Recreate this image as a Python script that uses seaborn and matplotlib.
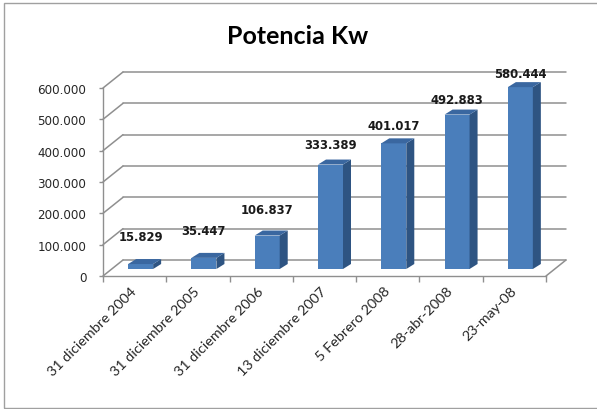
import matplotlib
matplotlib.use("Agg")
import numpy as np
import pandas as pd
import seaborn as sns
import matplotlib.pyplot as plt
import matplotlib.transforms as mtrans
from matplotlib.patches import Polygon, Rectangle
from matplotlib.lines import Line2D
from matplotlib.ticker import FuncFormatter, FixedLocator

# ---- data ----
categories = ["31 diciembre 2004", "31 diciembre 2005", "31 diciembre 2006",
              "13 diciembre 2007", "5 Febrero 2008", "28-abr-2008", "23-may-08"]
values = [15829, 35447, 106837, 333389, 401017, 492883, 580444]
y_ticks = [0, 100000, 200000, 300000, 400000, 500000, 600000]
title = "Potencia Kw"

def fmt(v):
    return f"{int(round(v)):,}".replace(",", ".")

sns.set_theme(style="white")
plt.rcParams["font.family"] = ["DejaVu Sans"]

W, H, DPI = 597, 410, 100
FRONT = "#4a7ebb"
SIDE = "#2e5482"
TOP = "#3a67a0"
GRID = "#8f8f8f"

fig = plt.figure(figsize=(W / DPI, H / DPI), dpi=DPI)
fig.patch.set_facecolor("white")
ax = fig.add_axes([103 / W, 133 / H, 443 / W, 188 / H])
ax.set_facecolor("none")

df = pd.DataFrame({"fecha": categories, "kw": values})
sns.barplot(data=df, x="fecha", y="kw", color=FRONT, saturation=1,
            width=0.395, ax=ax, linewidth=0, zorder=3)
ax.set_xlim(-0.5, len(categories) - 0.5)
ax.set_ylim(y_ticks[0], y_ticks[-1])
ax.set_xlabel("")
ax.set_ylabel("")

for s in ["top", "right"]:
    ax.spines[s].set_visible(False)
for s in ["left", "bottom"]:
    ax.spines[s].set_color(GRID)
    ax.spines[s].set_linewidth(1.0)

ax.yaxis.set_major_locator(FixedLocator(y_ticks))
ax.yaxis.set_major_formatter(FuncFormatter(lambda v, p: fmt(v)))
ax.tick_params(axis="y", length=3, width=1, color=GRID, pad=9,
               labelsize=8.6, labelcolor="#262626", left=True)

ax.set_xticks(range(len(categories)))
ax.set_xticklabels(categories, rotation=45, ha="right", va="center",
                   rotation_mode="anchor", fontsize=10.4, color="#262626",
                   family=["Lato", "DejaVu Sans"])
ax.tick_params(axis="x", which="major", length=0, pad=9)
ax.set_xticks(np.arange(-0.5, len(categories), 1.0), minor=True)
ax.tick_params(axis="x", which="minor", length=4, width=1, color=GRID, bottom=True)

# 3D geometry (display pixels)
BX, BY = 20, 16     # back wall offset
OX, OY = 6, 7       # bar front face offset
DX, DY = 8, 5       # bar depth
ident = mtrans.IdentityTransform()
td = ax.transData

x_left, x_right = -0.5, len(categories) - 0.5
for v in y_ticks:
    (xa, ya) = td.transform((x_left, v))
    (xb, yb) = td.transform((x_right, v))
    ax.add_line(Line2D([xa + BX, xb + BX], [ya + BY, yb + BY], color=GRID, lw=1.1,
                       transform=ident, clip_on=False, zorder=1))
    ax.add_line(Line2D([xa, xa + BX], [ya, ya + BY], color=GRID, lw=1.1,
                       transform=ident, clip_on=False, zorder=1))
(xa, ya) = td.transform((x_right, 0))
ax.add_line(Line2D([xa, xa + BX], [ya, ya + BY], color=GRID, lw=1.1,
                   transform=ident, clip_on=False, zorder=1))

shift = mtrans.ScaledTranslation(OX / DPI, OY / DPI, fig.dpi_scale_trans)
xshift = mtrans.ScaledTranslation(OX / DPI, 0, fig.dpi_scale_trans)
for p in list(ax.patches):
    x0, w, h = p.get_x(), p.get_width(), p.get_height()
    p.set_transform(td + shift)
    p.set_clip_on(False)
    X0, Y0 = td.transform((x0, 0))
    X1, Y1 = td.transform((x0 + w, h))
    X0 += OX; X1 += OX; Y0 += OY; Y1 += OY
    side = Polygon([(X1, Y0), (X1 + DX, Y0 + DY), (X1 + DX, Y1 + DY), (X1, Y1)],
                   closed=True, facecolor=SIDE, edgecolor="none",
                   transform=ident, clip_on=False, zorder=3)
    top = Polygon([(X0, Y1), (X1, Y1), (X1 + DX, Y1 + DY), (X0 + DX, Y1 + DY)],
                  closed=True, facecolor=TOP, edgecolor="none",
                  transform=ident, clip_on=False, zorder=3)
    ax.add_patch(side)
    ax.add_patch(top)

# data labels
for i, v in enumerate(values):
    ax.text(i, 0.916 * v + 113000, fmt(v), transform=td + xshift,
            ha="center", va="center", fontsize=8.4, fontweight="bold",
            color="#1a1a1a", zorder=6, clip_on=False)

fig.text(298 / W, 1 - 37 / H, title, ha="center", va="center", fontsize=18,
         fontweight="bold", family=["Lato", "DejaVu Sans"], color="black")

fig.add_artist(Rectangle((4 / W, 1.5 / H), 1.1, 404.5 / H, transform=fig.transFigure,
                         facecolor="none", edgecolor="#a0a0a0", lw=1.0))

fig.savefig("out.png", dpi=DPI)
